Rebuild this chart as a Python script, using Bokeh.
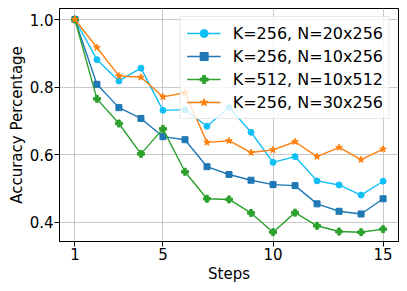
from bokeh.plotting import figure
from bokeh.models import Range1d, FixedTicker, Legend, LegendItem, NumeralTickFormatter
from bokeh.embed import file_html
from bokeh.resources import INLINE

steps = list(range(1, 16))
acc_k256_n20 = [1.0, 0.881, 0.818, 0.856, 0.731, 0.733, 0.684, 0.740, 0.666, 0.577, 0.594, 0.522, 0.510, 0.480, 0.521]
acc_k256_n10 = [1.0, 0.808, 0.739, 0.707, 0.653, 0.644, 0.564, 0.541, 0.524, 0.511, 0.508, 0.454, 0.432, 0.424, 0.469]
acc_k512_n10 = [1.0, 0.765, 0.692, 0.602, 0.676, 0.549, 0.469, 0.467, 0.427, 0.370, 0.428, 0.389, 0.372, 0.370, 0.379]
acc_k256_n30 = [1.0, 0.917, 0.833, 0.829, 0.771, 0.783, 0.636, 0.641, 0.606, 0.614, 0.638, 0.594, 0.621, 0.585, 0.616]
labels = ["K=256, N=20x256", "K=256, N=10x256", "K=512, N=10x512", "K=256, N=30x256"]
x_ticks = [1, 5, 10, 15]
y_ticks = [0.4, 0.6, 0.8, 1.0]

FONT = "DejaVu Sans"

p = figure(width=407, height=291, output_backend="svg", toolbar_location=None,
           x_range=Range1d(0.30, 15.70), y_range=Range1d(0.3425, 1.0326),
           min_border_left=59, min_border_right=9, min_border_top=8, min_border_bottom=50)

p.outline_line_color = "black"
p.outline_line_width = 1
for ax in (p.xaxis[0], p.yaxis[0]):
    ax.major_label_text_font = FONT
    ax.major_label_text_font_size = "15px"
    ax.major_label_text_color = "black"
    ax.axis_label_text_font = FONT
    ax.axis_label_text_font_size = "15px"
    ax.axis_label_text_font_style = "normal"
    ax.axis_label_text_color = "black"
    ax.minor_tick_line_color = None
    ax.major_tick_out = 5
    ax.major_tick_in = 0
    ax.axis_line_color = "black"
    ax.major_tick_line_color = "black"

p.xaxis.ticker = FixedTicker(ticks=x_ticks)
p.yaxis.ticker = FixedTicker(ticks=y_ticks)
p.yaxis.formatter = NumeralTickFormatter(format="0.0")
p.xaxis.axis_label = "Steps"
p.yaxis.axis_label = "Accuracy Percentage"
p.xaxis.axis_label_standoff = 2
p.yaxis.axis_label_standoff = 1
p.yaxis.major_label_standoff = 1
p.xaxis.major_label_standoff = 1

p.grid.grid_line_color = "#c8c8c8"
p.grid.grid_line_width = 1

series = [
    (acc_k256_n20, "#10bff5", "circle", 6),
    (acc_k256_n10, "#1f77b4", "square", 6),
    (acc_k512_n10, "#2ca02c", "plus", 7),
    (acc_k256_n30, "#ff7f0e", "star", 7),
]

items = []
for (vals, color, marker, size), lab in zip(series, labels):
    r1 = p.line(steps, vals, line_color=color, line_width=1.4)
    r2 = p.scatter(steps, vals, marker=marker, size=size, fill_color=color, line_color=color)
    items.append(LegendItem(label=lab, renderers=[r1, r2]))

legend = Legend(items=items, location="top_right")
legend.label_text_font = FONT
legend.label_text_font_size = "16px"
legend.label_text_color = "black"
legend.glyph_width = 34
legend.glyph_height = 20
legend.label_height = 20
legend.label_standoff = 12
legend.spacing = 3
legend.padding = 6
legend.margin = 8
legend.border_line_color = "#d0d0d0"
legend.background_fill_alpha = 0.8
p.add_layout(legend)

open("out.html", "w").write(file_html(p, INLINE))
